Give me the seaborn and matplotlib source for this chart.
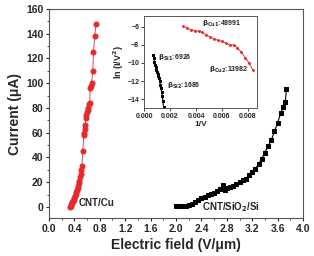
import numpy as np
import pandas as pd
import matplotlib
matplotlib.use('Agg')
import matplotlib.pyplot as plt
from matplotlib.ticker import MultipleLocator
import seaborn as sns

sns.set_style("ticks")
plt.rcParams['font.family'] = ['Liberation Sans', 'DejaVu Sans']
plt.rcParams['font.weight'] = 'bold'
plt.rcParams['mathtext.default'] = 'bf'

# main panel: CNT/Cu
x_cu = [0.33, 0.34, 0.35, 0.36, 0.37, 0.38, 0.39, 0.40, 0.41, 0.42, 0.43, 0.44,
        0.45, 0.46, 0.47, 0.48, 0.49, 0.50, 0.51, 0.52, 0.53, 0.55, 0.55, 0.56,
        0.57, 0.58, 0.59, 0.60, 0.61, 0.62, 0.63, 0.64, 0.65, 0.66, 0.67, 0.69,
        0.70, 0.72, 0.74]
y_cu = [0, 1, 2, 3, 4, 5, 6, 7.5, 9, 10.5, 12, 13.5,
        15, 17, 19, 21, 24, 27, 30, 33, 45, 58, 60, 63,
        66, 72, 74, 77, 78, 80, 83, 84, 96, 98, 100, 110,
        125, 138, 148]

# main panel: CNT/SiO2/Si
x_si = [2.00, 2.05, 2.10, 2.15, 2.20, 2.25, 2.30, 2.35, 2.40, 2.45, 2.50, 2.55,
        2.60, 2.65, 2.70, 2.74, 2.77, 2.80, 2.85, 2.90, 2.95, 3.00, 3.05, 3.10,
        3.15, 3.20, 3.25, 3.30, 3.35, 3.40, 3.45, 3.50, 3.55, 3.60, 3.65, 3.69,
        3.72, 3.74]
y_si = [0.5, 0.5, 0.5, 1, 1.5, 2.5, 4, 5.5, 7, 8, 9.5, 10.5,
        11.5, 13, 14.5, 18, 14, 15, 16, 17, 18.5, 20, 21.5, 23,
        25.5, 28, 31, 34.5, 39, 44, 49, 54, 61, 68, 76, 81,
        85, 95]

# inset: F-N plot
inv_v_cu = [0.0030, 0.0033, 0.0036, 0.0039, 0.0042, 0.0045, 0.0048, 0.0051, 0.0054,
            0.0057, 0.0060, 0.0063, 0.0066, 0.0069, 0.0072, 0.0075, 0.0078, 0.0081, 0.0084]
ln_cu = [-5.9, -6.1, -6.3, -6.4, -6.5, -6.6, -6.9, -7.1, -7.3,
         -7.5, -7.6, -7.8, -8.0, -8.0, -8.3, -8.8, -9.4, -10.0, -10.8]
inv_v_si = [0.0007, 0.00075, 0.0008, 0.00085, 0.0009, 0.00095, 0.0010, 0.00105, 0.0011,
            0.00115, 0.0012, 0.00125, 0.0013, 0.00135, 0.0014, 0.00145, 0.0015]
ln_si = [-9.1, -9.5, -9.9, -10.2, -10.5, -10.8, -11.0, -11.2, -11.5,
         -11.7, -12.0, -12.4, -12.8, -13.2, -13.7, -14.2, -14.9]

fig = plt.figure(figsize=(3.14, 2.56), dpi=100)
ax = fig.add_axes([0.156, 0.148, 0.809, 0.817])

sns.lineplot(x=x_cu, y=y_cu, ax=ax, color='#e52a2e', lw=0.6, marker='o', ms=3.6,
             mec='#e52a2e', estimator=None, sort=False)
sns.lineplot(x=x_si, y=y_si, ax=ax, color='black', lw=0.8, marker='s', ms=3.0,
             mec='black', estimator=None, sort=False)

ax.set_xlim(0, 4.0)
ax.set_ylim(-9, 160)
ax.xaxis.set_major_locator(MultipleLocator(0.4))
ax.xaxis.set_minor_locator(MultipleLocator(0.2))
ax.yaxis.set_major_locator(MultipleLocator(20))
ax.yaxis.set_minor_locator(MultipleLocator(10))
ax.tick_params(which='major', labelsize=7.5, length=2.5, width=0.8, pad=1.5)
ax.tick_params(which='minor', length=1.5, width=0.6)
for s in ax.spines.values():
    s.set_linewidth(0.8)
    s.set_color('#555555')
ax.set_xlabel('Electric field (V/μm)', fontsize=10, fontweight='bold', labelpad=3)
ax.set_ylabel('Current (μA)', fontsize=10, fontweight='bold', labelpad=3)

ax.text(0.47, 3, 'CNT/Cu', fontsize=7, fontweight='bold', va='center')
ax.text(2.87, 0, r'CNT/SiO$_2$/Si', fontsize=7, fontweight='bold', ha='center', va='center')

# inset
ins = fig.add_axes([0.459, 0.578, 0.359, 0.359])
sns.lineplot(x=inv_v_cu, y=ln_cu, ax=ins, color='#e52a2e', lw=0.7, marker='o', ms=1.3,
             mec='#e52a2e', estimator=None, sort=False)
sns.lineplot(x=inv_v_si, y=ln_si, ax=ins, color='black', lw=0.8, marker='s', ms=1.5,
             mec='black', estimator=None, sort=False)
ins.set_xlim(0, 0.0087)
ins.set_ylim(-15, -4.8)
ins.yaxis.set_major_locator(MultipleLocator(2))
ins.set_xticks([0.000, 0.002, 0.004, 0.006, 0.008])
ins.set_xticklabels(['0.000', '0.002', '0.004', '0.006', '0.008'])
ins.tick_params(labelsize=5, length=2, width=0.6, pad=1.5)
for s in ins.spines.values():
    s.set_linewidth(0.7)
    s.set_color('#555555')
ins.set_xlabel('1/V', fontsize=6, fontweight='bold', labelpad=1)
ins.set_ylabel(r'ln (I/V$^2$)', fontsize=6.5, fontweight='bold', labelpad=1)

ins.text(0.0045, -5.9, r'$\beta_{Cu1}$:48991', fontsize=5, fontweight='bold')
ins.text(0.0011, -9.6, r'$\beta_{Si1}$:6926', fontsize=5, fontweight='bold')
ins.text(0.0018, -12.8, r'$\beta_{Si2}$:1686', fontsize=5, fontweight='bold')
ins.text(0.0050, -11.0, r'$\beta_{Cu2}$:13982', fontsize=5, fontweight='bold')

fig.savefig('out.png', dpi=100)
